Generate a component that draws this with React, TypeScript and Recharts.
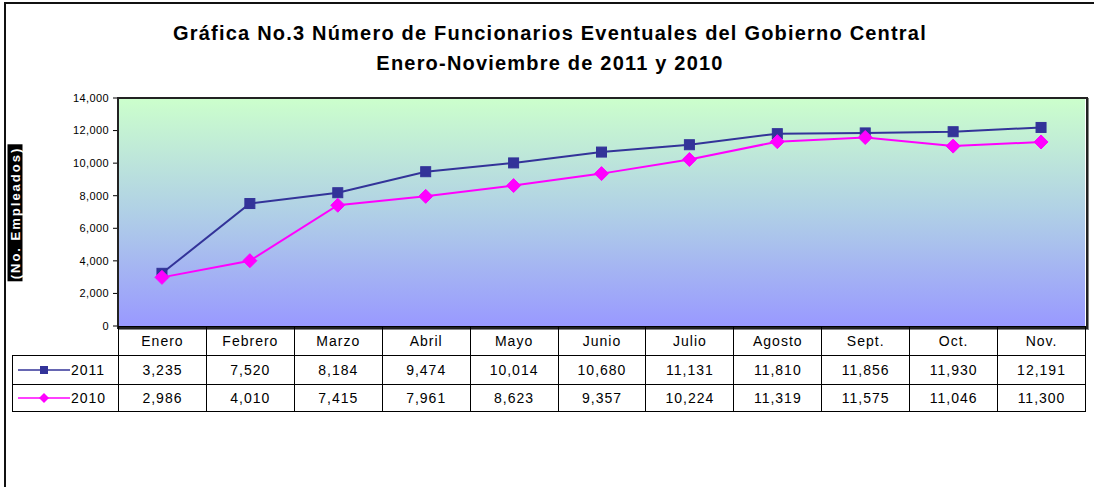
import React from "react";
import { LineChart, Line, XAxis, YAxis, CartesianGrid } from "recharts";

const months = ["Enero", "Febrero", "Marzo", "Abril", "Mayo", "Junio", "Julio", "Agosto", "Sept.", "Oct.", "Nov."];
const values2011 = [3235, 7520, 8184, 9474, 10014, 10680, 11131, 11810, 11856, 11930, 12191];
const values2010 = [2986, 4010, 7415, 7961, 8623, 9357, 10224, 11319, 11575, 11046, 11300];
const yTicks = [0, 2000, 4000, 6000, 8000, 10000, 12000, 14000];

const data = months.map((m, i) => ({ month: m, y2011: values2011[i], y2010: values2010[i] }));

const FONT = "'Liberation Sans', Arial, sans-serif";
const NAVY = "#333399";
const MAGENTA = "#FF00FF";
const fmt = (v: number) => v.toLocaleString("en-US");

const Square = (props: any) => {
  const { cx, cy, index } = props;
  return <rect key={"s" + index} x={cx - 5} y={cy - 5} width={10} height={10} fill={NAVY} stroke={NAVY} />;
};

const Diamond = (props: any) => {
  const { cx, cy, index } = props;
  const r = 7;
  return (
    <polygon
      key={"d" + index}
      points={`${cx},${cy - r} ${cx + r},${cy} ${cx},${cy + r} ${cx - r},${cy}`}
      fill={MAGENTA}
      stroke={MAGENTA}
    />
  );
};

const LegendKey = ({ color, diamond, label }: { color: string; diamond?: boolean; label: string }) => (
  <div style={{ display: "flex", alignItems: "center", paddingLeft: 4 }}>
    <svg width={54} height={12}>
      <line x1={1} y1={6} x2={53} y2={6} stroke={color} strokeWidth={1.5} />
      {diamond ? (
        <polygon points="27,1 32,6 27,11 22,6" fill={color} />
      ) : (
        <rect x={23} y={2} width={8} height={8} fill={color} />
      )}
    </svg>
    <span style={{ letterSpacing: 1 }}>{label}</span>
  </div>
);

const cell: React.CSSProperties = {
  border: "1px solid #000",
  textAlign: "center",
  padding: 0,
  letterSpacing: 1,
};

export default function App() {
  const colW = (1085 - 118) / months.length;
  return (
    <div style={{ position: "fixed", left: 0, top: 0, width: 1094, height: 487, background: "#fff", fontFamily: FONT, overflow: "hidden" }}>
      <div style={{ position: "absolute", left: 0, top: 18, width: 1100, textAlign: "center", fontWeight: "bold", fontSize: 20, lineHeight: "30px", color: "#000", letterSpacing: 1.2 }}>
        <div>Gráfica No.3 Número de Funcionarios Eventuales del Gobierno Central</div>
        <div>Enero-Noviembre de 2011 y 2010</div>
      </div>
      <div style={{ position: "absolute", left: 0, top: 0 }}>
        <LineChart width={1094} height={340} data={data} margin={{ top: 98, right: 9, bottom: 14, left: 0 }}>
          <defs>
            <linearGradient id="bg" x1="0" y1="0" x2="0" y2="1">
              <stop offset="0%" stopColor="#CCFFCC" />
              <stop offset="50%" stopColor="#B0D0E6" />
              <stop offset="100%" stopColor="#9999FF" />
            </linearGradient>
          </defs>
          <CartesianGrid horizontal={false} vertical={false} fill="url(#bg)" fillOpacity={1} />
          <XAxis dataKey="month" scale="band" hide />
          <YAxis
            width={118}
            domain={[0, 14000]}
            ticks={yTicks}
            tickFormatter={fmt}
            tick={{ fontSize: 11, fill: "#000", fontFamily: FONT, letterSpacing: 0.4 }}
            tickSize={5}
            tickMargin={4}
            tickLine={{ stroke: "#000" }}
            axisLine={{ stroke: "#000", strokeWidth: 2 }}
            interval={0}
          />
          <Line dataKey="y2011" stroke={NAVY} strokeWidth={2} dot={Square} isAnimationActive={false} />
          <Line dataKey="y2010" stroke={MAGENTA} strokeWidth={2} dot={Diamond} isAnimationActive={false} />
        </LineChart>
      </div>
      <div style={{ position: "absolute", left: 117, top: 97, width: 967, height: 228, border: "2px solid #222", boxShadow: "1px 1px 0 #888", pointerEvents: "none" }} />
      <div
        style={{
          position: "absolute",
          left: 15,
          top: 213,
          transform: "translate(-50%, -50%) rotate(-90deg)",
          background: "#000",
          color: "#fff",
          fontWeight: "bold",
          fontSize: 13,
          lineHeight: "15px",
          padding: "0px 2px",
          whiteSpace: "nowrap",
          letterSpacing: 2,
        }}
      >
        (No. Empleados)
      </div>
      <table
        style={{
          position: "absolute",
          left: 12,
          top: 326,
          borderCollapse: "collapse",
          tableLayout: "fixed",
          width: 106 + colW * months.length,
          fontSize: 14,
          fontFamily: FONT,
          color: "#000",
        }}
      >
        <colgroup>
          <col style={{ width: 106 }} />
          {months.map((m) => (
            <col key={m} style={{ width: colW }} />
          ))}
        </colgroup>
        <tbody>
          <tr style={{ height: 29 }}>
            <td style={{ padding: 0, border: "none" }} />
            {months.map((m) => (
              <td key={m} style={cell}>{m}</td>
            ))}
          </tr>
          <tr style={{ height: 29 }}>
            <td style={{ ...cell, textAlign: "left" }}>
              <LegendKey color={NAVY} label="2011" />
            </td>
            {values2011.map((v, i) => (
              <td key={i} style={cell}>{fmt(v)}</td>
            ))}
          </tr>
          <tr style={{ height: 27 }}>
            <td style={{ ...cell, textAlign: "left" }}>
              <LegendKey color={MAGENTA} diamond label="2010" />
            </td>
            {values2010.map((v, i) => (
              <td key={i} style={cell}>{fmt(v)}</td>
            ))}
          </tr>
        </tbody>
      </table>
      <div style={{ position: "absolute", left: 4, top: 2, width: 2, height: 485, background: "#111" }} />
      <div style={{ position: "absolute", left: 4, top: 2, width: 1090, height: 2, background: "#111" }} />
    </div>
  );
}
